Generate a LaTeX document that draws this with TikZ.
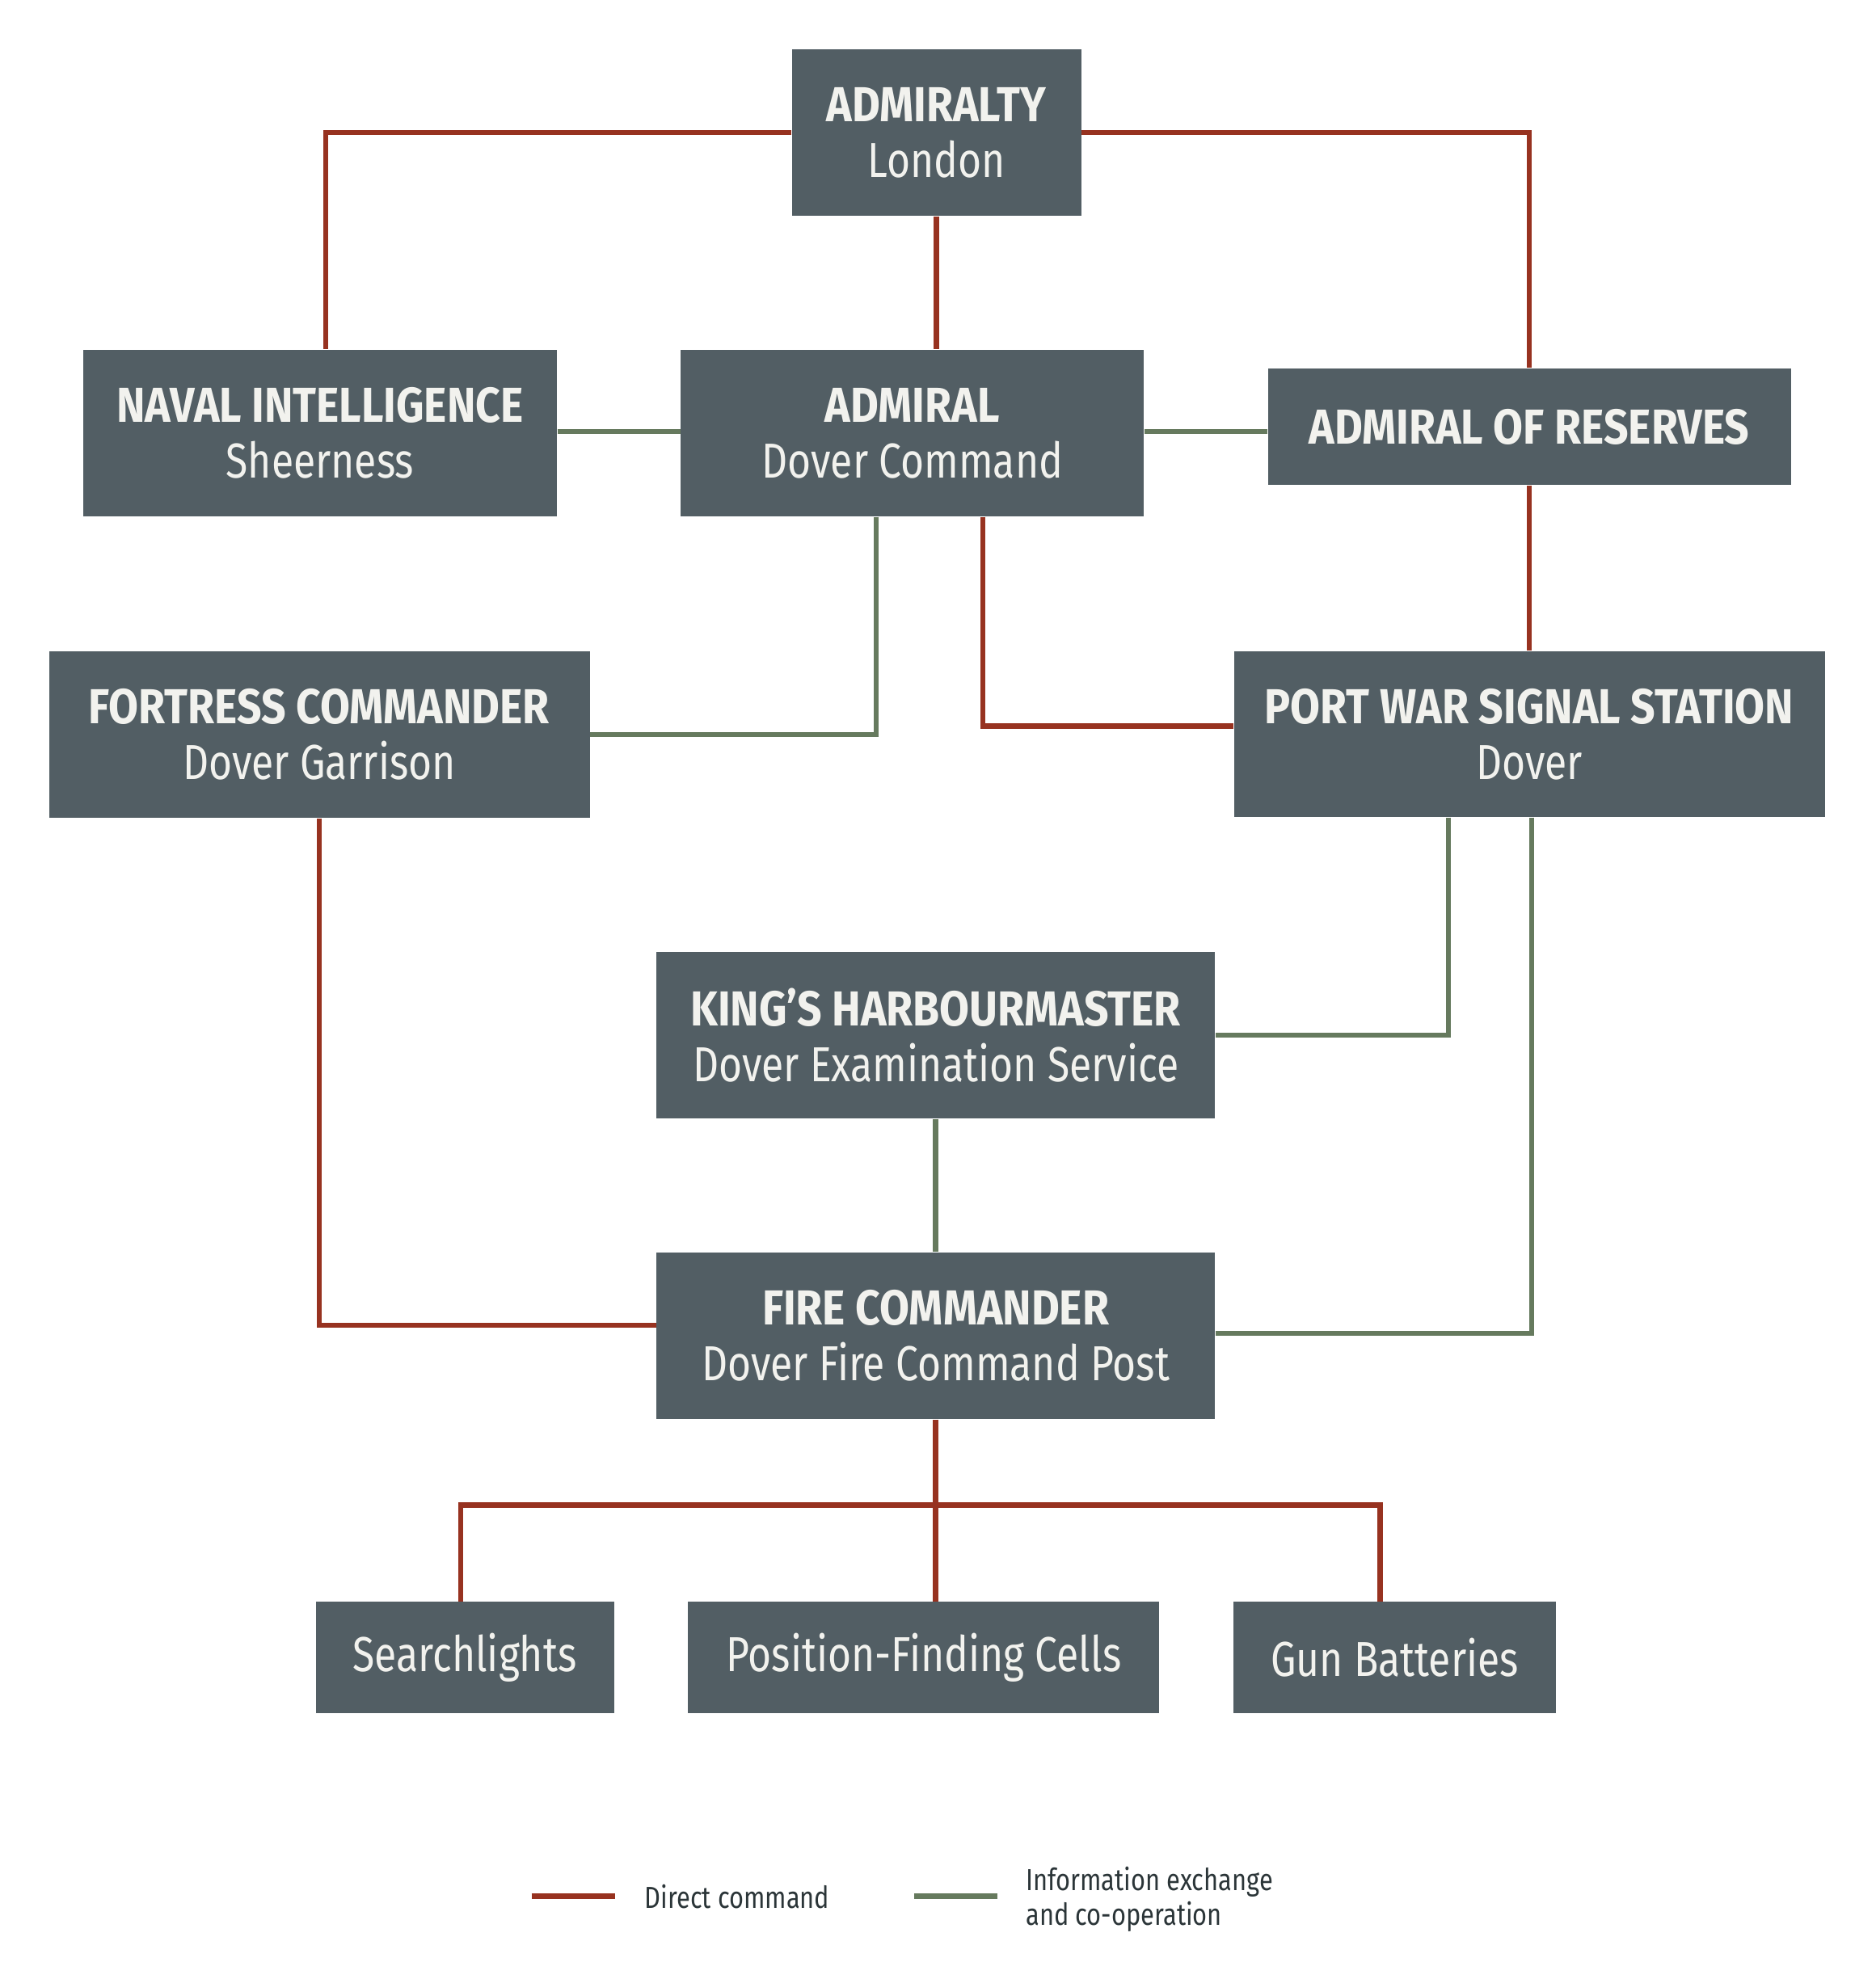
\documentclass[tikz,border=0pt]{standalone}
\usepackage{fontspec}
\setmainfont[FakeStretch=0.82, BoldFeatures={FakeStretch=0.88}]{Fira Sans}
\usetikzlibrary{calc}
\definecolor{boxgrey}{HTML}{525E64}
\definecolor{boxtext}{HTML}{F2F2EE}
\definecolor{cmdred}{HTML}{973220}
\definecolor{infogreen}{HTML}{667A5E}
\definecolor{legtext}{HTML}{2B3538}

\begin{document}
\begin{tikzpicture}[
    box/.style={fill=boxgrey, text=boxtext, align=center, inner sep=0pt,
        font=\fontsize{17.3}{19.6}\selectfont},
    big/.style={box, minimum height=2.06cm},
    small/.style={box, minimum height=1.375cm},
    cmd/.style={draw=cmdred, line width=1.85pt},
    info/.style={draw=infogreen, line width=1.85pt},
    legend/.style={text=legtext, anchor=west, align=left, inner sep=0pt,
        font=\fontsize{10.7}{12.2}\selectfont}
]
    \useasboundingbox (0,0) rectangle (23.2,-24.49);

    % boxes
    \node[big, minimum width=3.58cm] (admiralty) at (11.585,-1.64) {\textbf{ADMIRALTY}\\London};
    \node[big, minimum width=5.86cm] (naval) at (3.96,-5.36) {\textbf{NAVAL INTELLIGENCE}\\Sheerness};
    \node[big, minimum width=5.73cm] (admiral) at (11.288,-5.36) {\textbf{ADMIRAL}\\Dover Command};
    \node[box, minimum width=6.47cm, minimum height=1.44cm] (reserves) at (18.92,-5.28) {\textbf{ADMIRAL OF RESERVES}};
    \node[big, minimum width=6.69cm] (fortress) at (3.95,-9.09) {\textbf{FORTRESS COMMANDER}\\Dover Garrison};
    \node[big, minimum width=7.31cm, minimum height=2.05cm] (pwss) at (18.92,-9.085) {\textbf{PORT WAR SIGNAL STATION}\\Dover};
    \node[big, minimum width=6.905cm] (kings) at (11.577,-12.81) {\textbf{KING’S HARBOURMASTER}\\Dover Examination Service};
    \node[big, minimum width=6.905cm] (fire) at (11.577,-16.53) {\textbf{FIRE COMMANDER}\\Dover Fire Command Post};
    \node[small, minimum width=3.69cm] (search) at (5.75,-20.51) {Searchlights};
    \node[small, minimum width=5.83cm] (posfind) at (11.428,-20.51) {Position-Finding Cells};
    \node[small, minimum width=3.984cm] (guns) at (17.255,-20.51) {Gun Batteries};

    % direct command
    \draw[cmd] (admiralty.west) -| ([xshift=0.07cm]naval.north);
    \draw[cmd] (admiralty.east) -| (reserves.north);
    \draw[cmd] (admiralty.south) -- (admiralty.south |- admiral.north);
    \draw[cmd] ([xshift=0.87cm]admiral.south) |- ([yshift=0.1cm]pwss.west);
    \draw[cmd] (reserves.south) -- (pwss.north);
    \draw[cmd] (fortress.south) |- ([yshift=0.13cm]fire.west);
    \coordinate (fork) at ($(fire.south)+(0,-1.06)$);
    \draw[cmd] (fire.south) -- (fork) -- (fork |- posfind.north);
    \draw[cmd] (fork) -| ([xshift=-0.05cm]search.north);
    \draw[cmd] (fork) -| ([xshift=-0.18cm]guns.north);

    % information exchange
    \draw[info] (naval.east |- 0,-5.34) -- (admiral.west |- 0,-5.34);
    \draw[info] (admiral.east |- 0,-5.34) -- (reserves.west |- 0,-5.34);
    \draw[info] ([xshift=-0.45cm]admiral.south) |- (fortress.east);
    \draw[info] ([xshift=-1cm]pwss.south) |- (kings.east);
    \draw[info] ([xshift=0.03cm]pwss.south) |- ([yshift=0.03cm]fire.east);
    \draw[info] (kings.south) -- (fire.north);

    % legend
    \coordinate (cmdA) at (6.577,-23.466);
    \coordinate (cmdB) at (7.608,-23.466);
    \coordinate (infoA) at (11.31,-23.466);
    \coordinate (infoB) at (12.34,-23.466);
    \draw[cmd] (cmdA) -- (cmdB);
    \draw[info] (infoA) -- (infoB);
    \node[legend] (cmdlabel) at (7.97,-23.466) {Direct command};
    \node[legend] (infolabel) at (12.686,-23.50) {Information exchange\\and co-operation};
\end{tikzpicture}
\end{document}
